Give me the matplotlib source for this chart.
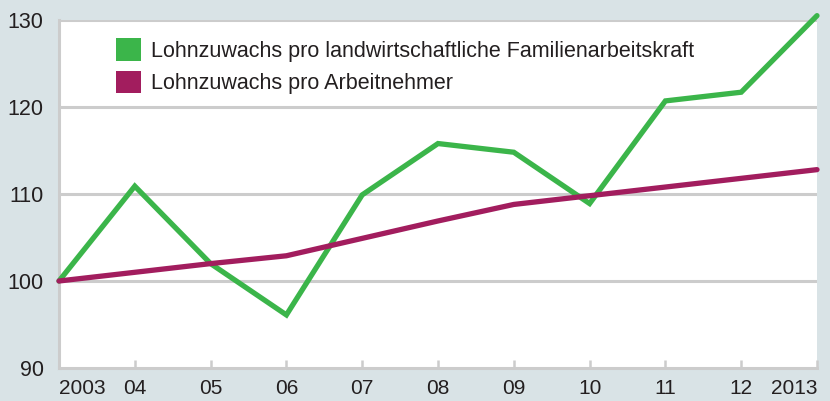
import matplotlib.pyplot as plt
from matplotlib.patches import Patch

plt.rcParams['font.family'] = ['Liberation Sans', 'DejaVu Sans']

# data (index 2003 = 100)
years = [2003, 2004, 2005, 2006, 2007, 2008, 2009, 2010, 2011, 2012, 2013]
year_labels = ['2003', '04', '05', '06', '07', '08', '09', '10', '11', '12', '2013']
farm_family = [100, 110.9, 102.0, 96.1, 109.9, 115.8, 114.8, 108.9, 120.7, 121.7, 130.5]
employees = [100, 101.0, 102.0, 102.9, 104.9, 106.9, 108.8, 109.8, 110.8, 111.8, 112.8]

label_farm = 'Lohnzuwachs pro landwirtschaftliche Familienarbeitskraft'
label_emp = 'Lohnzuwachs pro Arbeitnehmer'

green = '#3bb54a'
purple = '#a21d5e'
bg = '#d9e3e6'
grey = '#cccccc'
txt = '#231f20'

fig = plt.figure(figsize=(8.3, 4.01), dpi=100, facecolor=bg)
ax = fig.add_axes([59 / 830, 1 - 368 / 401, (817 - 59) / 830, (368 - 20) / 401])
ax.set_facecolor('white')

ax.set_xlim(2003, 2013)
ax.set_ylim(90, 130)

for y in [100, 110, 120, 130]:
    ax.axhline(y, color=grey, lw=2.2, zorder=1)

ax.plot(years, farm_family, color=green, lw=3.8, zorder=3,
        solid_capstyle='round', solid_joinstyle='miter', clip_on=False)
ax.plot(years, employees, color=purple, lw=3.8, zorder=4,
        solid_capstyle='round', clip_on=False)

for s in ['top', 'right']:
    ax.spines[s].set_visible(False)
for s in ['left', 'bottom']:
    ax.spines[s].set_color(grey)
    ax.spines[s].set_linewidth(2.2)

ax.set_yticks([90, 100, 110, 120, 130])
ax.set_yticklabels(['90', '100', '110', '120', '130'])
ax.tick_params(axis='y', length=0, pad=11, labelsize=15.5, labelcolor=txt)

ax.set_xticks(years)
ax.set_xticklabels(year_labels)
ax.tick_params(axis='x', direction='in', length=6, width=1.8, color=grey,
               pad=8, labelsize=15, labelcolor=txt)
xl = ax.get_xticklabels()
xl[0].set_horizontalalignment('left')
xl[-1].set_horizontalalignment('right')

handles = [Patch(facecolor=green, edgecolor='none'),
           Patch(facecolor=purple, edgecolor='none')]
fig.legend(handles, [label_farm, label_emp], loc='upper left',
           bbox_to_anchor=(97 / 830, 1 - 19 / 401), frameon=False,
           fontsize=15.5, handlelength=1.15, handleheight=1.25,
           handletextpad=0.45, labelspacing=0.4, labelcolor=txt)

fig.savefig('out.png', dpi=100, facecolor=bg)
